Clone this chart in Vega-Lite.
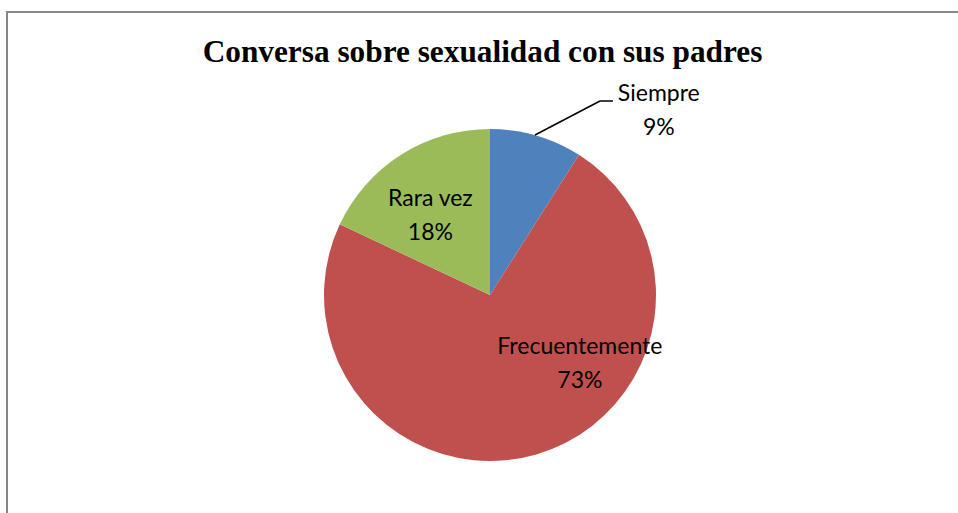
{
  "$schema": "https://vega.github.io/schema/vega-lite/v6.json",
  "width": 951,
  "height": 501,
  "autosize": {"type": "none"},
  "padding": {"left": 7, "top": 12, "right": 0, "bottom": 0},
  "background": "white",
  "title": {
    "text": "Conversa sobre sexualidad con sus padres",
    "font": "Liberation Serif",
    "fontSize": 31.3,
    "fontWeight": "bold",
    "color": "#000000",
    "anchor": "middle",
    "frame": "group",
    "baseline": "alphabetic",
    "offset": -82
  },
  "data": {
    "values": [
      {"categoria": "Siempre", "valor": 9, "orden": 1},
      {"categoria": "Frecuentemente", "valor": 73, "orden": 2},
      {"categoria": "Rara vez", "valor": 18, "orden": 3}
    ]
  },
  "layer": [
    {
      "data": {"values": [{}]},
      "mark": {"type": "rect", "fill": null, "stroke": "#868686", "strokeWidth": 2},
      "encoding": {
        "x": {"value": 0},
        "y": {"value": 0},
        "x2": {"value": {"expr": "width + 6"}},
        "y2": {"value": {"expr": "height + 6"}}
      }
    },
    {
      "mark": {"type": "arc", "outerRadius": 166, "x": 483, "y": 283},
      "encoding": {
        "theta": {"field": "valor", "type": "quantitative", "stack": true},
        "order": {"field": "orden", "type": "quantitative"},
        "color": {
          "field": "categoria",
          "type": "nominal",
          "scale": {"domain": ["Siempre", "Frecuentemente", "Rara vez"], "range": ["#4F81BD", "#C0504D", "#9BBB59"]},
          "legend": null
        }
      }
    },
    {
      "transform": [{"calculate": "[datum.categoria, datum.valor + '%']", "as": "etiqueta"}],
      "mark": {"type": "text", "radius": 200, "dx": 113, "dy": -9, "x": 483, "y": 283, "font": "Lato", "fontSize": 23, "lineHeight": 34, "align": "center", "baseline": "middle", "color": "#000000"},
      "encoding": {
        "theta": {"field": "valor", "type": "quantitative", "stack": true},
        "order": {"field": "orden", "type": "quantitative"},
        "detail": {"field": "categoria", "type": "nominal"},
        "text": {"condition": {"test": "datum.categoria === 'Siempre'", "field": "etiqueta"}, "value": ""}
      }
    },
    {
      "transform": [{"calculate": "[datum.categoria, datum.valor + '%']", "as": "etiqueta"}],
      "mark": {"type": "text", "radius": 100, "dx": -6, "dy": -12, "x": 483, "y": 283, "font": "Lato", "fontSize": 23, "lineHeight": 34, "align": "center", "baseline": "middle", "color": "#000000"},
      "encoding": {
        "theta": {"field": "valor", "type": "quantitative", "stack": true},
        "order": {"field": "orden", "type": "quantitative"},
        "detail": {"field": "categoria", "type": "nominal"},
        "text": {"condition": {"test": "datum.categoria === 'Rara vez'", "field": "etiqueta"}, "value": ""}
      }
    },
    {
      "transform": [{"calculate": "[datum.categoria, datum.valor + '%']", "as": "etiqueta"}],
      "mark": {"type": "text", "radius": 100, "dx": 62, "dy": -44, "x": 483, "y": 283, "font": "Lato", "fontSize": 23, "lineHeight": 34, "align": "center", "baseline": "middle", "color": "#000000"},
      "encoding": {
        "theta": {"field": "valor", "type": "quantitative", "stack": true},
        "order": {"field": "orden", "type": "quantitative"},
        "detail": {"field": "categoria", "type": "nominal"},
        "text": {"condition": {"test": "datum.categoria === 'Frecuentemente'", "field": "etiqueta"}, "value": ""}
      }
    },
    {
      "data": {"values": [{}]},
      "mark": {"type": "rule", "color": "#000000", "strokeWidth": 1.5},
      "encoding": {
        "x": {"value": 528},
        "y": {"value": 123},
        "x2": {"value": 593},
        "y2": {"value": 89}
      }
    },
    {
      "data": {"values": [{}]},
      "mark": {"type": "rule", "color": "#000000", "strokeWidth": 1.5},
      "encoding": {
        "x": {"value": 593},
        "y": {"value": 89},
        "x2": {"value": 606},
        "y2": {"value": 89}
      }
    }
  ],
  "config": {"view": {"stroke": null}}
}
